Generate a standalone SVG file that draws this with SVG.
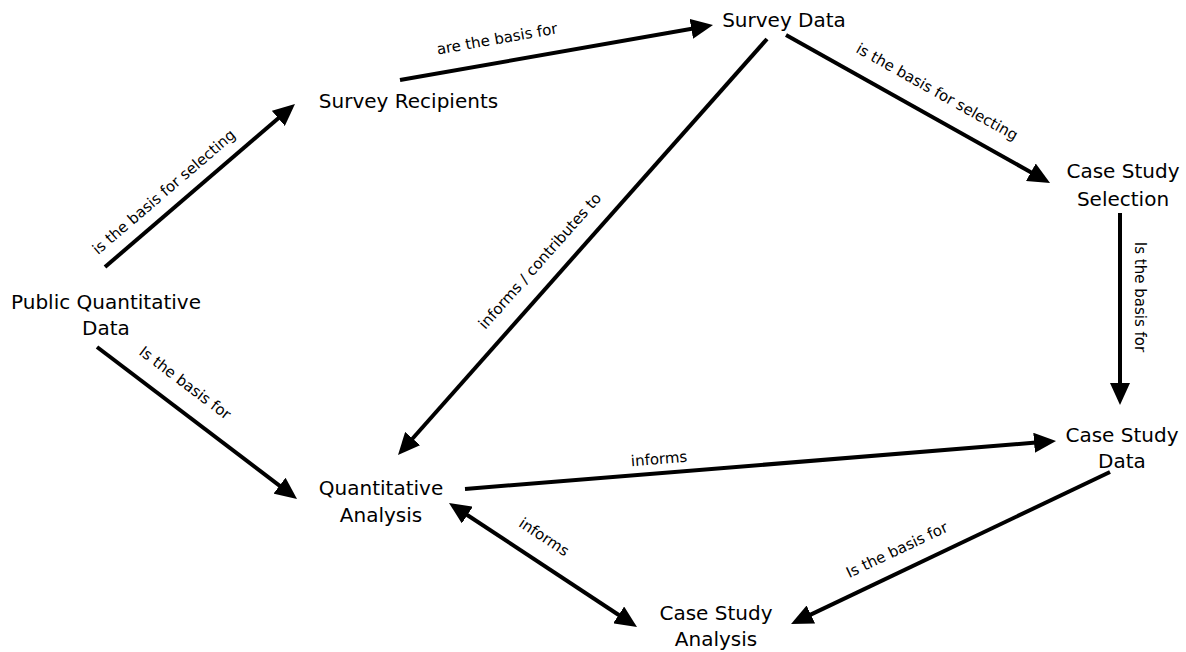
<svg xmlns="http://www.w3.org/2000/svg" width="1186" height="652" viewBox="0 0 1186 652">
<style>
.node text{font-family:"DejaVu Sans",sans-serif;font-size:20px;fill:#000;text-anchor:middle}
.lbl{font-family:"DejaVu Sans",sans-serif;font-size:15px;fill:#000;text-anchor:middle}
.edge{stroke:#000;stroke-width:4;fill:none}
</style>
<defs>
<marker id="ah" markerUnits="userSpaceOnUse" markerWidth="22" markerHeight="20" refX="2" refY="10" orient="auto" viewBox="0 0 22 20"><path d="M0,0 L22,10 L0,20 z" fill="#000"/></marker>
<marker id="ahs" markerUnits="userSpaceOnUse" markerWidth="22" markerHeight="20" refX="2" refY="10" orient="auto-start-reverse" viewBox="0 0 22 20"><path d="M0,0 L22,10 L0,20 z" fill="#000"/></marker>
</defs>
<rect width="1186" height="652" fill="#fff"/>
<g id="connectors">
<line class="edge" x1="105" y1="267" x2="279.8" y2="117" marker-end="url(#ah)"/>
<line class="edge" x1="400" y1="80" x2="693.3" y2="28.5" marker-end="url(#ah)"/>
<line class="edge" x1="786" y1="35" x2="1032.6" y2="173.2" marker-end="url(#ah)"/>
<line class="edge" x1="1120" y1="213" x2="1120" y2="385" marker-end="url(#ah)"/>
<line class="edge" x1="767" y1="39" x2="411.3" y2="440" marker-end="url(#ah)"/>
<line class="edge" x1="97" y1="347" x2="281.1" y2="486.9" marker-end="url(#ah)"/>
<line class="edge" x1="465" y1="489" x2="1036.1" y2="442.6" marker-end="url(#ah)"/>
<line class="edge" x1="465.7" y1="514" x2="620.3" y2="616" marker-start="url(#ahs)" marker-end="url(#ah)"/>
<line class="edge" x1="1110" y1="472" x2="809.1" y2="615.4" marker-end="url(#ah)"/>
<text class="lbl" transform="translate(164,192) rotate(-40.6)" y="5">is the basis for selecting</text>
<text class="lbl" transform="translate(497,39) rotate(-10)" y="5">are the basis for</text>
<text class="lbl" transform="translate(937,92) rotate(29.2)" y="5">is the basis for selecting</text>
<text class="lbl" transform="translate(1140,297) rotate(90)" y="5">Is the basis for</text>
<text class="lbl" transform="translate(540,261) rotate(-48.4)" y="5">informs / contributes to</text>
<text class="lbl" transform="translate(185,383) rotate(37.2)" y="5">Is the basis for</text>
<text class="lbl" transform="translate(659,459) rotate(-4.6)" y="5">informs</text>
<text class="lbl" transform="translate(544,537) rotate(33.4)" y="5">informs</text>
<text class="lbl" transform="translate(897,550) rotate(-25.4)" y="5">Is the basis for</text>
</g>
<g id="survey-data" class="node"><text x="784" y="27">Survey Data</text></g>
<g id="survey-recipients" class="node"><text x="408.5" y="108">Survey Recipients</text></g>
<g id="case-study-selection" class="node"><text x="1123" y="178">Case Study</text><text x="1123" y="206">Selection</text></g>
<g id="public-quantitative-data" class="node"><text x="106" y="309">Public Quantitative</text><text x="106" y="335">Data</text></g>
<g id="case-study-data" class="node"><text x="1122" y="442">Case Study</text><text x="1122" y="468">Data</text></g>
<g id="quantitative-analysis" class="node"><text x="381" y="495">Quantitative</text><text x="381" y="522">Analysis</text></g>
<g id="case-study-analysis" class="node"><text x="716" y="620">Case Study</text><text x="716" y="646">Analysis</text></g>
</svg>
